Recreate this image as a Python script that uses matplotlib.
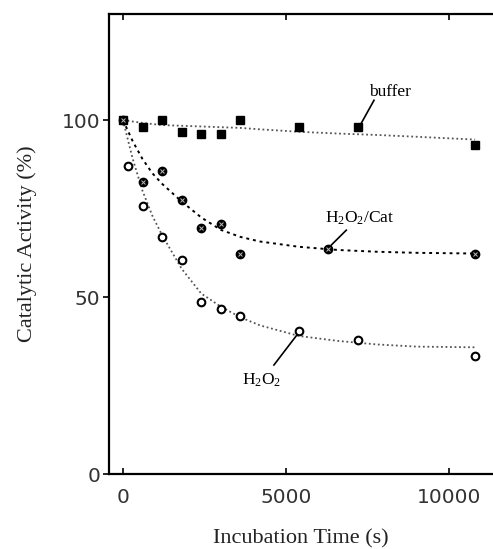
import matplotlib
matplotlib.use('Agg')
import matplotlib.pyplot as plt

plt.rcParams['mathtext.fontset'] = 'custom'
plt.rcParams['mathtext.rm'] = 'Liberation Serif'
plt.rcParams['mathtext.it'] = 'Liberation Serif'

# measured points
t_buf = [0, 600, 1200, 1800, 2400, 3000, 3600, 5400, 7200, 10800]
y_buf = [100, 98, 100, 96.5, 96, 96, 100, 98, 98, 93]

t_cat = [0, 600, 1200, 1800, 2400, 3000, 3600, 6300, 10800]
y_cat = [100, 82.6, 85.7, 77.4, 69.4, 70.6, 62.3, 63.7, 62.3]

t_h2o2 = [150, 600, 1200, 1800, 2400, 3000, 3600, 5400, 7200, 10800]
y_h2o2 = [87, 75.7, 66.9, 60.6, 48.7, 46.6, 44.7, 40.4, 37.8, 33.3]

# fitted curves
t_fit = [0, 300, 600, 900, 1200, 1800, 2400, 3000, 3600, 4200, 5400, 6600, 7800, 9000, 10800]
fit_buf = [100, 99.6, 99.2, 98.9, 98.6, 98.4, 98.2, 98, 97.8, 97.4, 96.7, 96.2, 95.8, 95.3, 94.5]
fit_cat = [100, 94, 89, 85, 82, 77, 72.5, 69, 67, 65.7, 64.2, 63.3, 62.8, 62.5, 62.3]
fit_h2o2 = [100, 89, 80, 73, 67.5, 58, 51, 47.3, 44.3, 42, 39, 37.6, 36.6, 36, 35.8]

fig = plt.figure(figsize=(4.93, 5.49), dpi=100)
ax = fig.add_axes([0.221, 0.1366, 0.779, 0.838])

ax.plot(t_fit, fit_buf, color='#555555', ls=(0, (1, 1.5)), lw=1.3)
ax.plot(t_fit, fit_cat, color='black', ls=(0, (1.5, 2)), lw=1.4)
ax.plot(t_fit, fit_h2o2, color='#555555', ls=(0, (1, 1.5)), lw=1.3)

ax.plot(t_buf, y_buf, 's', color='black', ms=5.5, zorder=3)
ax.plot(t_cat, y_cat, 'o', color='black', ms=6, zorder=3)
ax.plot(t_cat, y_cat, 'x', color='#bbbbbb', ms=3, mew=0.7, zorder=4)
ax.plot(t_h2o2, y_h2o2, 'o', mfc='white', mec='black', mew=1.5, ms=5.5, zorder=3)

serif = 'Liberation Serif'
ax.text(8180, 107.9, 'buffer', family=serif, fontsize=12.5, ha='center', va='center')
ax.plot([7700, 7260], [105.6, 98.3], color='black', lw=1.2)
ax.text(7260, 72.3, r'H$_2$O$_2$/Cat', family=serif, fontsize=12.5, ha='center', va='center')
ax.plot([6850, 6390], [68.9, 64.7], color='black', lw=1.2)
ax.text(4254, 26.6, r'H$_2$O$_2$', family=serif, fontsize=12.5, ha='center', va='center')
ax.plot([4630, 5370], [30.8, 39.7], color='black', lw=1.2)

ax.set_xlim(-430, 11350)
ax.set_ylim(0, 130)
ax.set_xticks([0, 5000, 10000])
ax.set_yticks([0, 50, 100])

ax.spines['right'].set_visible(False)
for s in ['left', 'bottom', 'top']:
    ax.spines[s].set_linewidth(1.6)

ax.tick_params(axis='x', direction='in', top=True, length=4, width=1.2,
               labelsize=14.5, labelcolor='#333333', pad=10)
ax.tick_params(axis='y', direction='out', length=4, width=1.2,
               labelsize=14.5, labelcolor='#333333', pad=2)

ax.set_xlabel('Incubation Time (s)', family=serif, fontsize=16, color='#222222', labelpad=16)
ax.set_ylabel('Catalytic Activity (%)', family=serif, fontsize=16, color='#222222', labelpad=18)

fig.savefig('out.png', dpi=100)
